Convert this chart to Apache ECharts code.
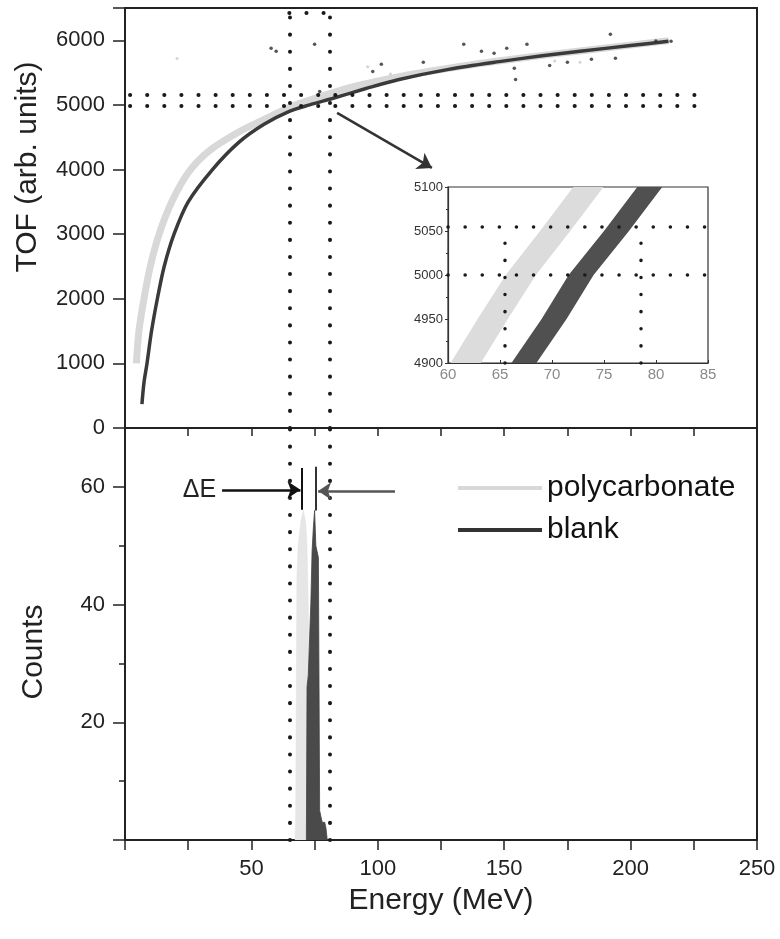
<!DOCTYPE html>
<html>
<head>
<meta charset="utf-8">
<script src="https://cdn.jsdelivr.net/npm/echarts@6/dist/echarts.min.js"></script>
<style>
html,body{margin:0;padding:0;background:#fff;}
#chart{width:780px;height:939px;}
</style>
</head>
<body>
<div id="chart"></div>
<script>
// ---- Top panel: TOF vs Energy curves ----
const polyCurveE   = [4.5, 5.5, 7.5, 10, 13.5, 18.5, 25, 33, 45, 58, 66, 75, 90, 110, 130, 150, 170, 190, 215];
const polyCurveTOF = [1000, 1500, 2000, 2500, 3000, 3500, 3950, 4280, 4580, 4830, 4980, 5100, 5280, 5450, 5580, 5690, 5790, 5880, 5995];
const blankCurveE   = [6.7, 7.5, 8.7, 10.5, 12.8, 15.5, 19.4, 25, 34.6, 45, 55, 65, 73, 82, 95, 108, 128, 148, 165, 180, 200, 215];
const blankCurveTOF = [370, 700, 1000, 1500, 2000, 2500, 3000, 3500, 4000, 4420, 4700, 4900, 5000, 5100, 5250, 5390, 5550, 5670, 5760, 5830, 5920, 5985];
// stray events
const strayDarkE   = [57.8, 59.8, 75, 77, 98, 101.4, 118, 134, 141, 146, 151, 154, 154.5, 159, 168, 175, 184.5, 192, 194, 210, 216];
const strayDarkTOF = [5876, 5830, 5938, 5209, 5519, 5628, 5659, 5938, 5829, 5800, 5876, 5566, 5395, 5938, 5612, 5659, 5705, 6093, 5721, 5990, 5985];
const strayLightE   = [20.6, 96, 105, 170, 180, 188];
const strayLightTOF = [5720, 5590, 5480, 5680, 5660, 5860];
// reference (dotted) lines
const refE   = [65, 81];
const refTOF = [4990, 5150];

// ---- Inset (zoom) ----
const insetTOF    = [4900, 4950, 5000, 5050, 5100];
const insetPolyE  = [61.7, 64.3, 67.0, 70.3, 73.5];
const insetBlankE = [67.3, 70.2, 72.8, 76.2, 79.4];
const insetRefE   = [65.5, 78.5];
const insetRefTOF = [5000, 5055];

// ---- Bottom panel: histograms ----
const histPolyE      = [67.25, 67.75, 68.25, 68.75, 69.25, 69.75, 70.25, 70.75, 71.25, 71.75, 72.25, 72.75, 73.25, 73.75, 74.25];
const histPolyCounts = [0, 3, 45, 50, 52, 54, 55, 56, 55, 54, 50, 40, 20, 5, 0];
const histBlankE      = [71.75, 72.25, 72.75, 73.25, 73.75, 74.25, 74.75, 75.25, 75.75, 76.25, 76.75, 77.25, 77.75, 78.25, 78.75, 79.25, 79.75, 80.25];
const histBlankCounts = [0, 26, 28, 34, 40, 49, 53, 56, 50, 49, 48, 5, 4, 3, 3, 3, 2, 0];

const xTicks = [50, 100, 150, 200, 250];
const tofTicks = [0, 1000, 2000, 3000, 4000, 5000, 6000];
const countTicks = [20, 40, 60];

// band half-widths in the inset (energy units) -- styling
const POLY_BAND_HALF = 1.45;
const BLANK_BAND_HALF = 1.2;

const zip = (a, b) => a.map((v, i) => [v, b[i]]);
const FONT = 'Liberation Sans, Arial, Helvetica, sans-serif';
const AX = '#222';
const dotStyle = (w) => ({ type: [0.1, 17], cap: 'round', width: w, color: '#1a1a1a' });

const chart = echarts.init(document.getElementById('chart'), null, { renderer: 'canvas' });

const topDotted = [
  [{ coord: [refE[0], 0] }, { coord: [refE[0], 6420] }],
  [{ coord: [refE[1], 0] }, { coord: [refE[1], 6420] }],
  [{ coord: [refE[0], 6420] }, { coord: [refE[1], 6420] }],
  [{ coord: [2, refTOF[0]] }, { coord: [230, refTOF[0]] }],
  [{ coord: [2, refTOF[1]] }, { coord: [230, refTOF[1]] }]
].map(p => { p[0].lineStyle = dotStyle(4); return p; });

const arrowLine = [{ coord: [83.9, 4876], lineStyle: { type: 'solid', width: 2.5, color: '#333' } },
                   { coord: [121.4, 4025], symbol: 'arrow', symbolSize: 14 }];

const bottomDotted = [
  [{ coord: [refE[0], 0], lineStyle: dotStyle(4) }, { coord: [refE[0], 70] }],
  [{ coord: [refE[1], 0], lineStyle: dotStyle(4) }, { coord: [refE[1], 70] }]
];

const insetDotted = [
  [{ coord: [60, insetRefTOF[0]], lineStyle: dotStyle(3.5) }, { coord: [85, insetRefTOF[0]] }],
  [{ coord: [60, insetRefTOF[1]], lineStyle: dotStyle(3.5) }, { coord: [85, insetRefTOF[1]] }],
  [{ coord: [insetRefE[0], 4900], lineStyle: dotStyle(3.5) }, { coord: [insetRefE[0], insetRefTOF[1]] }],
  [{ coord: [insetRefE[1], 4900], lineStyle: dotStyle(3.5) }, { coord: [insetRefE[1], insetRefTOF[1]] }]
];

const deltaE = [
  [{ coord: [38.4, 59.5], lineStyle: { type: 'solid', width: 2.5, color: '#111' },
     label: { show: true, position: 'start', formatter: 'ΔE', fontSize: 25, fontFamily: FONT, color: '#222', distance: 6 } },
   { coord: [69.4, 59.5], symbol: 'arrow', symbolSize: 13 }],
  [{ coord: [106.8, 59.3], lineStyle: { type: 'solid', width: 2.5, color: '#555' } },
   { coord: [76.4, 59.3], symbol: 'arrow', symbolSize: 13 }],
  [{ coord: [70.0, 56.1], lineStyle: { type: 'solid', width: 2, color: '#111' } }, { coord: [70.0, 63.2] }],
  [{ coord: [75.6, 56.0], lineStyle: { type: 'solid', width: 2, color: '#333' } }, { coord: [75.6, 63.4] }]
];

function bandRenderer(centersE, tofs, half, fill) {
  return function (params, api) {
    if (params.dataIndex !== 0) return null;
    const pts = [];
    for (let i = 0; i < centersE.length; i++) pts.push(api.coord([centersE[i] - half, tofs[i]]));
    for (let i = centersE.length - 1; i >= 0; i--) pts.push(api.coord([centersE[i] + half, tofs[i]]));
    return { type: 'polygon', shape: { points: pts, smooth: 0 }, style: { fill: fill } };
  };
}

const option = {
  animation: false,
  backgroundColor: '#fff',
  textStyle: { fontFamily: FONT },
  grid: [
    { left: 125, right: 23, top: 8, height: 420, show: true, borderColor: AX, borderWidth: 2, backgroundColor: 'transparent' },
    { left: 125, right: 23, top: 428, height: 412, show: true, borderColor: AX, borderWidth: 2, backgroundColor: 'transparent' },
    { left: 448, top: 187, width: 260, height: 176, show: true, borderColor: '#333', borderWidth: 1.2, backgroundColor: '#fff', z: 5 }
  ],
  legend: {
    orient: 'vertical', left: 458, top: 473, itemGap: 12, itemWidth: 84, itemHeight: 4, padding: 0,
    textStyle: { fontSize: 30, color: '#111', fontFamily: FONT },
    data: [{ name: 'polycarbonate', icon: 'rect' }, { name: 'blank', icon: 'rect' }],
    selectedMode: false
  },
  xAxis: [
    { gridIndex: 0, type: 'value', min: 0, max: 250, interval: 25,
      axisLine: { lineStyle: { color: AX, width: 2 } },
      axisTick: { show: true, inside: false, length: 8, lineStyle: { color: AX, width: 1.5 } },
      axisLabel: { show: false }, splitLine: { show: false } },
    { gridIndex: 1, type: 'value', min: 0, max: 250, interval: 25,
      name: 'Energy (MeV)', nameLocation: 'middle', nameGap: 46,
      nameTextStyle: { fontSize: 30, color: '#222', fontFamily: FONT },
      axisLine: { lineStyle: { color: AX, width: 2 } },
      axisTick: { show: true, inside: false, length: 10, lineStyle: { color: AX, width: 1.5 } },
      axisLabel: { fontSize: 22, color: '#222', margin: 18, fontFamily: FONT,
        formatter: v => xTicks.includes(v) ? String(v) : '' },
      splitLine: { show: false } },
    { gridIndex: 2, type: 'value', min: 60, max: 85, interval: 5, z: 6,
      axisLine: { lineStyle: { color: '#333', width: 1.2 } },
      axisTick: { show: true, inside: true, length: 3, lineStyle: { color: '#333' } },
      axisLabel: { fontSize: 15, color: '#8a8a8a', margin: 4, fontFamily: FONT, formatter: v => String(v) },
      splitLine: { show: false } }
  ],
  yAxis: [
    { gridIndex: 0, type: 'value', min: 0, max: 6500, interval: 1000,
      axisLine: { show: true, lineStyle: { color: AX, width: 2 } },
      axisTick: { show: true, inside: false, length: 12, lineStyle: { color: AX, width: 1.5 } },
      axisLabel: { fontSize: 22, color: '#222', margin: 20, fontFamily: FONT,
        formatter: v => tofTicks.includes(v) ? String(v) : '' },
      splitLine: { show: false } },
    { gridIndex: 1, type: 'value', min: 0, max: 70, interval: 20,
      axisLine: { show: true, lineStyle: { color: AX, width: 2 } },
      axisTick: { show: true, inside: false, length: 12, lineStyle: { color: AX, width: 1.5 } },
      minorTick: { show: true, splitNumber: 2, length: 6, lineStyle: { color: AX, width: 1.5 } },
      axisLabel: { fontSize: 22, color: '#222', margin: 20, fontFamily: FONT,
        formatter: v => countTicks.includes(v) ? String(v) : '' },
      splitLine: { show: false }, minorSplitLine: { show: false } },
    { gridIndex: 2, type: 'value', min: 4900, max: 5100, interval: 50, z: 6,
      axisLine: { show: true, lineStyle: { color: '#333', width: 1.2 } },
      axisTick: { show: true, inside: false, length: 3, lineStyle: { color: '#333' } },
      minorTick: { show: true, splitNumber: 2, length: 2, lineStyle: { color: '#333' } },
      axisLabel: { fontSize: 13, color: '#333', margin: 5, fontFamily: FONT, formatter: v => String(v) },
      splitLine: { show: false }, minorSplitLine: { show: false } }
  ],
  series: [
    { name: 'polycarbonate', type: 'line', xAxisIndex: 0, yAxisIndex: 0, data: zip(polyCurveE, polyCurveTOF),
      showSymbol: false, smooth: 0.3, itemStyle: { color: '#d8d8d8' },
      lineStyle: { color: '#d8d8d8', width: 7 }, z: 2 },
    { name: 'strayLight', type: 'scatter', xAxisIndex: 0, yAxisIndex: 0, data: zip(strayLightE, strayLightTOF),
      symbolSize: 3, itemStyle: { color: '#c8c8c8' }, z: 2 },
    { name: 'blank', type: 'line', xAxisIndex: 0, yAxisIndex: 0, data: zip(blankCurveE, blankCurveTOF),
      showSymbol: false, smooth: 0.3, itemStyle: { color: '#333' },
      lineStyle: { color: '#3a3a3a', width: 3.5 }, z: 3,
      markLine: { silent: true, symbol: ['none', 'none'], label: { show: false }, animation: false,
        data: topDotted.concat([arrowLine]) } },
    { name: 'strayDark', type: 'scatter', xAxisIndex: 0, yAxisIndex: 0, data: zip(strayDarkE, strayDarkTOF),
      symbolSize: 3.5, itemStyle: { color: '#2a2a2a' }, z: 4 },

    { name: 'polycarbonate', type: 'line', xAxisIndex: 1, yAxisIndex: 1, data: zip(histPolyE, histPolyCounts),
      step: 'middle', showSymbol: false, lineStyle: { color: '#e2e2e2', width: 0.5 },
      areaStyle: { color: '#e6e6e6', opacity: 1 }, z: 2 },
    { name: 'blank', type: 'line', xAxisIndex: 1, yAxisIndex: 1, data: zip(histBlankE, histBlankCounts),
      step: 'middle', showSymbol: false, lineStyle: { color: '#444', width: 0.8 },
      areaStyle: { color: '#4a4a4a', opacity: 1 }, z: 3,
      markLine: { silent: true, symbol: ['none', 'none'], label: { show: false }, animation: false,
        data: bottomDotted.concat(deltaE) } },

    { name: 'insetPoly', type: 'custom', xAxisIndex: 2, yAxisIndex: 2, data: zip(insetPolyE, insetTOF),
      renderItem: bandRenderer(insetPolyE, insetTOF, POLY_BAND_HALF, '#dcdcdc'), clip: true, z: 6 },
    { name: 'insetBlank', type: 'custom', xAxisIndex: 2, yAxisIndex: 2, data: zip(insetBlankE, insetTOF),
      renderItem: bandRenderer(insetBlankE, insetTOF, BLANK_BAND_HALF, '#505050'), clip: true, z: 7 },
    { name: 'insetRef', type: 'line', xAxisIndex: 2, yAxisIndex: 2, data: [], z: 8,
      markLine: { silent: true, symbol: ['none', 'none'], label: { show: false }, animation: false, z: 8,
        data: insetDotted } }
  ],
  graphic: [
    { type: 'text', x: 28, y: 167, rotation: Math.PI / 2,
      style: { text: 'TOF (arb. units)', font: '30px ' + FONT, fill: '#222', textAlign: 'center', textVerticalAlign: 'middle', align: 'center', verticalAlign: 'middle' } },
    { type: 'text', x: 34, y: 652, rotation: Math.PI / 2,
      style: { text: 'Counts', font: '30px ' + FONT, fill: '#222', textAlign: 'center', textVerticalAlign: 'middle', align: 'center', verticalAlign: 'middle' } }
  ]
};
chart.setOption(option);
</script>
</body>
</html>
